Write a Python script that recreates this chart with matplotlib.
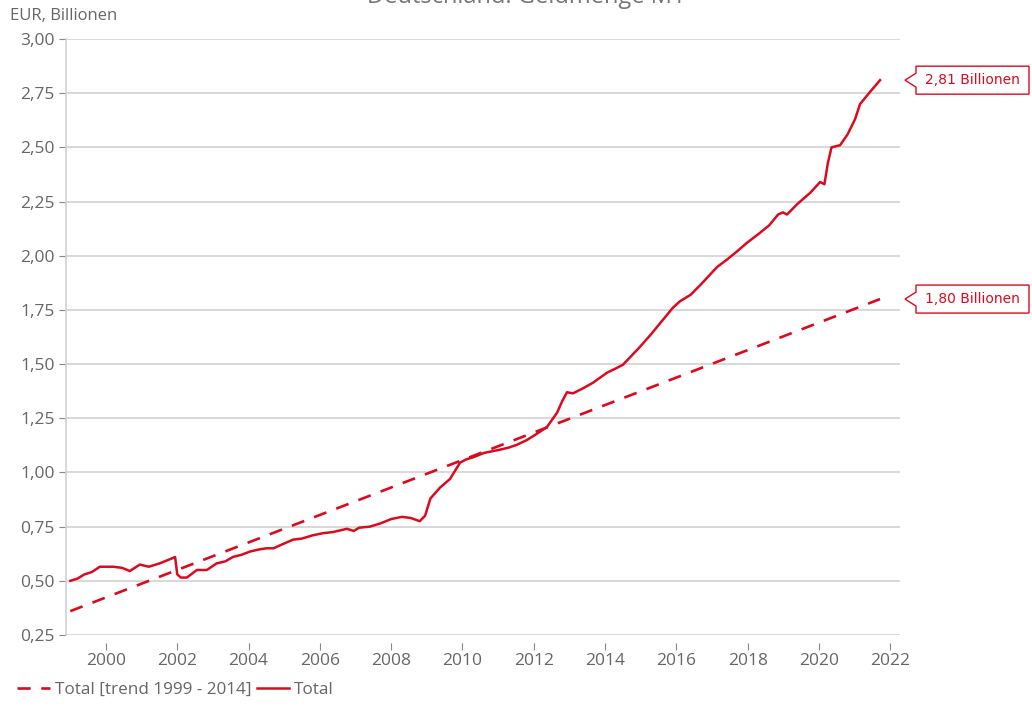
import matplotlib
matplotlib.use("Agg")
import matplotlib.pyplot as plt
from matplotlib.patches import Polygon
from matplotlib.ticker import FuncFormatter

# Total, decimal years
years = [1999.00, 1999.20, 1999.40, 1999.60, 1999.83, 2000.00, 2000.20, 2000.45,
         2000.67, 2000.95, 2001.20, 2001.50, 2001.80, 2001.94, 2002.00, 2002.10,
         2002.27, 2002.55, 2002.83, 2003.10, 2003.35, 2003.56, 2003.80, 2004.04,
         2004.30, 2004.50, 2004.70, 2004.90, 2005.25, 2005.50, 2005.80, 2006.10,
         2006.37, 2006.76, 2006.95, 2007.10, 2007.40, 2007.70, 2008.00, 2008.30,
         2008.55, 2008.80, 2008.95, 2009.10, 2009.37, 2009.65, 2009.93, 2010.10,
         2010.30, 2010.60, 2011.05, 2011.30, 2011.53, 2011.81, 2012.10, 2012.37,
         2012.65, 2012.80, 2012.93, 2013.10, 2013.40, 2013.66, 2014.05, 2014.30,
         2014.50, 2014.75, 2014.98, 2015.30, 2015.60, 2015.90, 2016.10, 2016.40,
         2016.70, 2017.14, 2017.40, 2017.70, 2017.98, 2018.30, 2018.60, 2018.85,
         2018.99, 2019.10, 2019.40, 2019.75, 2020.03, 2020.15, 2020.25, 2020.35,
         2020.59, 2020.80, 2020.92, 2021.01, 2021.15, 2021.40, 2021.71]
total = [0.500, 0.510, 0.530, 0.540, 0.565, 0.565, 0.565, 0.560,
         0.545, 0.575, 0.565, 0.580, 0.600, 0.610, 0.530, 0.515,
         0.515, 0.550, 0.550, 0.580, 0.590, 0.610, 0.620, 0.635,
         0.645, 0.650, 0.650, 0.665, 0.690, 0.695, 0.710, 0.720,
         0.725, 0.740, 0.730, 0.745, 0.750, 0.765, 0.785, 0.795,
         0.790, 0.775, 0.800, 0.880, 0.930, 0.970, 1.045, 1.060,
         1.070, 1.090, 1.105, 1.115, 1.128, 1.150, 1.180, 1.210,
         1.275, 1.330, 1.370, 1.365, 1.390, 1.414, 1.460, 1.480,
         1.497, 1.540, 1.580, 1.640, 1.700, 1.760, 1.790, 1.820,
         1.870, 1.948, 1.980, 2.020, 2.060, 2.100, 2.140, 2.190,
         2.200, 2.190, 2.240, 2.290, 2.340, 2.330, 2.430, 2.500,
         2.510, 2.560, 2.600, 2.630, 2.700, 2.750, 2.810]

# linear trend 1999 - 2014, extended
trend_years = [1999.0, 2021.71]
trend_vals = [0.36, 1.80]

callout_vals = [2.81, 1.80]
callout_labels = ["2,81 Billionen", "1,80 Billionen"]

x_ticks = list(range(2000, 2023, 2))
y_ticks = [0.25, 0.50, 0.75, 1.00, 1.25, 1.50, 1.75, 2.00, 2.25, 2.50, 2.75, 3.00]

RED = "#dc0a1e"
GREY = "#666666"
GRID = "#d2d2d2"

plt.rcParams['font.family'] = ['Open Sans', 'DejaVu Sans']

W, H = 1032, 709
fig = plt.figure(figsize=(W / 100, H / 100), dpi=100)
fig.subplots_adjust(left=66 / W, right=900 / W, bottom=(H - 635) / H, top=(H - 39) / H)
ax = fig.add_subplot(111)

ax.plot(trend_years, trend_vals, color=RED, lw=1.9, dashes=(5, 4),
        label="Total [trend 1999 - 2014]")
ax.plot(years, total, color=RED, lw=1.8, label="Total")

ax.set_xlim(1998.88, 2022.27)
ax.set_ylim(0.25, 3.0)
ax.set_xticks(x_ticks)
ax.set_yticks(y_ticks)
ax.yaxis.set_major_formatter(FuncFormatter(lambda v, p: f"{v:.2f}".replace(".", ",")))

ax.grid(axis='y', color=GRID, lw=1.2)
ax.set_axisbelow(True)
for s in ['top', 'right']:
    ax.spines[s].set_visible(False)
ax.spines['left'].set_color(GRID)
ax.spines['left'].set_linewidth(1.2)
ax.spines['bottom'].set_position(('outward', 6))
ax.spines['bottom'].set_visible(False)

ax.tick_params(axis='y', length=5, color="#888888", labelcolor=GREY, labelsize=12.5, pad=3)
ax.tick_params(axis='x', length=5, color="#888888", labelcolor=GREY, labelsize=12.5, pad=2)

fig.text(10 / W, 1 - 16 / H, "EUR, Billionen", color=GREY, fontsize=12, va='center', ha='left')
# title sits mostly above the canvas, as in the reference
fig.text(0.51, 1 - 3 / H, "Deutschland: Geldmenge M1", color="#777777", fontsize=17,
         ha='center', va='baseline')

fig.legend(loc='center left', bbox_to_anchor=(2 / W, 1 - 690 / H), ncol=2, frameon=False,
           fontsize=12.3, handlelength=1.9, handletextpad=0.3, columnspacing=0.3,
           labelcolor=GREY)

# callouts on the right
fig.canvas.draw()
for val, lab in zip(callout_vals, callout_labels):
    yp = ax.transData.transform((2022, val))[1]
    tip, left, right, half, notch = 905, 916, 1029, 14, 7
    pts = [(tip, yp), (left, yp + notch), (left, yp + half), (right, yp + half),
           (right, yp - half), (left, yp - half), (left, yp - notch)]
    pts = [(px / W, py / H) for px, py in pts]
    fig.patches.append(Polygon(pts, closed=True, transform=fig.transFigure,
                               facecolor='white', edgecolor=RED, lw=1.0))
    fig.text((left + right) / 2 / W, yp / H, lab, color=RED, fontsize=10,
             family='DejaVu Sans', ha='center', va='center')

fig.savefig("out.png", dpi=100)
